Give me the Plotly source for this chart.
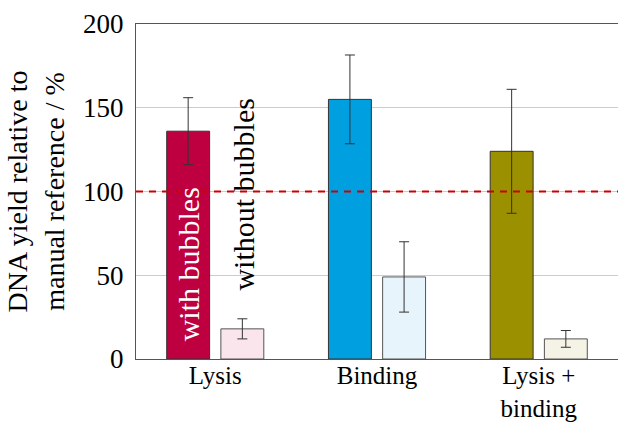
import plotly.graph_objects as go

categories = ["Lysis", "Binding", "Lysis +<br>binding"]
with_bubbles = [136, 155, 124]
with_bubbles_err = [20, 26.5, 37]
without_bubbles = [18, 49, 12]
without_bubbles_err = [6, 21, 5]
reference_level = 100
y_ticks = [0, 50, 100, 150, 200]

with_colors = ["#BE0040", "#009FE0", "#9B9000"]
without_colors = ["#F9E5EB", "#E8F4FC", "#F5F3E5"]

FONT = "Liberation Serif"

fig = go.Figure()
fig.add_trace(go.Bar(
    x=categories, y=with_bubbles, name="with bubbles",
    marker=dict(color=with_colors, line=dict(color="#333333", width=1)),
    error_y=dict(type="data", array=with_bubbles_err, color="#333333", thickness=1, width=5),
))
fig.add_trace(go.Bar(
    x=categories, y=without_bubbles, name="without bubbles",
    marker=dict(color=without_colors, line=dict(color="#555555", width=1)),
    error_y=dict(type="data", array=without_bubbles_err, color="#333333", thickness=1, width=5),
))

fig.add_shape(type="line", xref="paper", x0=0, x1=1, yref="y", y0=reference_level, y1=reference_level,
              line=dict(color="#CC0000", width=2, dash="7px,6px"), layer="above")

fig.add_annotation(x=categories[0], y=9.5, xshift=-27, text="with bubbles", textangle=-90,
                   showarrow=False, yanchor="bottom", font=dict(family=FONT, size=30, color="white"))
fig.add_annotation(x=categories[0], y=39.5, xshift=28, text="without bubbles", textangle=-90,
                   showarrow=False, yanchor="bottom", font=dict(family=FONT, size=30, color="black"))

fig.update_layout(
    width=618, height=423,
    margin=dict(l=136, r=0, t=24, b=64),
    paper_bgcolor="white", plot_bgcolor="white",
    barmode="group", bargap=0.33, bargroupgap=0.208,
    showlegend=False,
    font=dict(family=FONT, size=27, color="black"),
    xaxis=dict(type="category", range=[-0.49, 2.49], showline=True, linecolor="#555555", linewidth=1,
               mirror=True, ticks="", showgrid=False, tickfont=dict(size=25), ticklabelstandoff=-6,
               automargin=False),
    yaxis=dict(range=[0, 200], tickvals=y_ticks, showline=True, linecolor="#555555", linewidth=1,
               ticks="", showgrid=True, gridcolor="#CCCCCC", gridwidth=1, zeroline=False,
               tickfont=dict(size=27), ticklabelstandoff=6, automargin=False,
               title=dict(text="DNA yield relative to<br>manual reference / %", font=dict(size=28), standoff=10)),
)

fig.write_html("out.html", config={"displayModeBar": False},
               post_script="document.body.style.margin='0';")
